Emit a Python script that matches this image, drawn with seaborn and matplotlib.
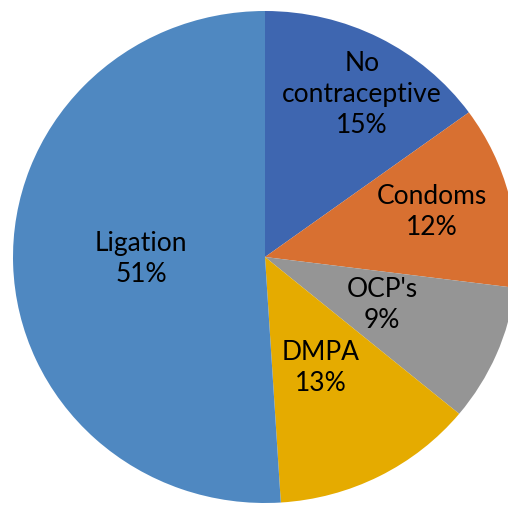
import matplotlib
matplotlib.use("Agg")
import matplotlib.pyplot as plt
import seaborn as sns

categories = ["No\ncontraceptive", "Condoms", "OCP's", "DMPA", "Ligation"]
values = [15, 12, 9, 13, 51]
colors = ["#3E66B0", "#D87031", "#959595", "#E5AB00", "#4F88C1"]

sns.set_theme(style="white")
plt.rcParams['font.family'] = ['Lato', 'DejaVu Sans']

fig = plt.figure(figsize=(5.08, 5.06), dpi=100)
ax = fig.add_axes([13/508, 2/506, 504/508, 492/506])
wedges, _ = ax.pie(values, colors=colors, startangle=90, counterclock=False,
                   wedgeprops=dict(linewidth=0))
ax.set_aspect('auto')
ax.set_xlim(-1, 1)
ax.set_ylim(-1, 1)
ax.axis('off')

# label anchor positions in axes data coords (Excel best-fit placement)
label_pos = [(0.385, 0.665), (0.663, 0.187), (0.464, -0.191), (0.222, -0.447), (-0.492, -0.004)]
for cat, v, (x, y) in zip(categories, values, label_pos):
    ax.text(x, y, f"{cat}\n{v}%", ha='center', va='center', fontsize=19,
            color='black', linespacing=1.3)

fig.savefig("out.png", dpi=100)
